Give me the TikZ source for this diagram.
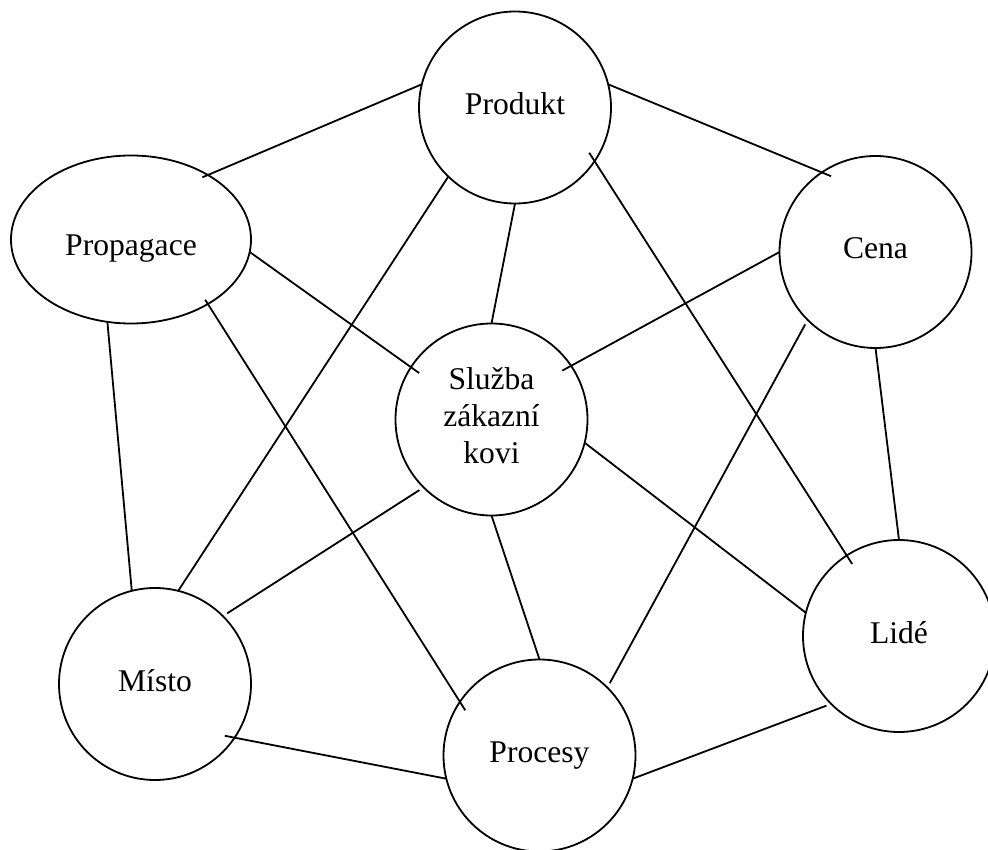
\documentclass[tikz,border=0pt]{standalone}
\usepackage{fontspec}
\setmainfont{Liberation Serif}
\usetikzlibrary{shapes.geometric}
\begin{document}
\begin{tikzpicture}[x=1pt,y=-1pt,
  every node/.style={font=\fontsize{31.6}{37}\selectfont},
  ringbase/.style={draw, line width=1.8pt, circle, minimum size=192pt,
    inner sep=0pt, outer sep=0pt},
  ring/.style={ringbase, text height=22pt, text depth=8pt},
  oval/.style={draw, line width=1.8pt, ellipse, minimum width=240pt,
    minimum height=168pt, inner sep=0pt, outer sep=0pt,
    text height=22pt, text depth=8pt},
  link/.style={line width=1.8pt},
  dipA/.style={shorten <=-#1}, dipA/.default=10pt,
  dipB/.style={shorten >=-#1}, dipB/.default=10pt,
  gapA/.style={shorten <=5pt},
  gapB/.style={shorten >=5pt}]

\useasboundingbox (0,0) rectangle (988,850);

% the seven elements of the marketing mix
\node[ring] (produkt)   at (515,107.5)   {Produkt};
\node[oval] (propagace) at (131,239.5)   {\raisebox{-9.5pt}{Propagace}};
\node[ring] (cena)      at (875.5,252)   {Cena};
\node[ringbase, align=center] (sluzba) at (491.5,419.5)
  {Služba\\zákazní\\kovi\rule[-8.8pt]{0pt}{8.8pt}};
\node[ring] (misto)     at (155,684)     {Místo};
\node[ring] (procesy)   at (539.5,755.5) {Procesy};
\node[ring] (lide)      at (899,636)     {Lidé};

% every element is tied to its neighbours
\draw[link,dipA=6pt]   (propagace.40)  -- (produkt.166);
\draw[link,dipB]       (produkt.14)    -- (cena.124);
\draw[link]            (produkt.226)   -- (misto.76);
\draw[link]            (produkt.270)   -- (sluzba.90);
\draw[link,dipA,dipB]  (produkt.326)   -- (lide.123);
\draw[link,dipB]       (propagace.354) -- (sluzba.147);
\draw[link]            (propagace.254) -- (misto.104);
\draw[link,dipA=5pt,dipB] (propagace.320) -- (procesy.146);
\draw[link,dipB]       (cena.180)      -- (sluzba.34);
\draw[link,gapA,gapB]  (cena.225)      -- (procesy.45);
\draw[link]            (cena.270)      -- (lide.90);
\draw[link,gapA,gapB]  (sluzba.225)    -- (misto.45);
\draw[link]            (sluzba.270)    -- (procesy.90);
\draw[link]            (sluzba.346)    -- (lide.166);
\draw[link,dipA]       (misto.326)     -- (procesy.194);
\draw[link,gapB]       (procesy.346)   -- (lide.225);
\end{tikzpicture}
\end{document}
